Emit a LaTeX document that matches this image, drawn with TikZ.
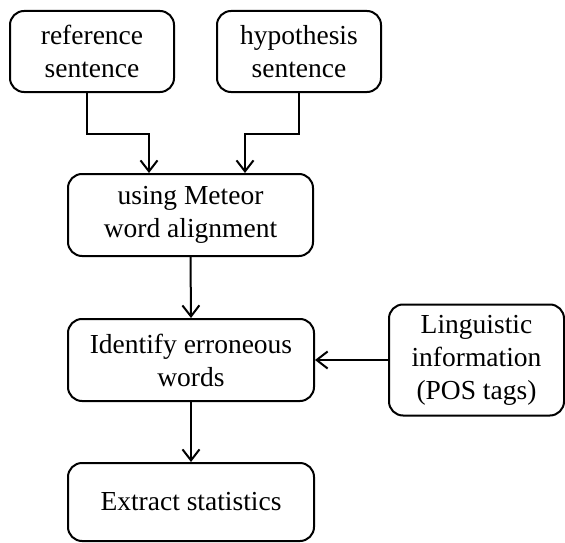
\documentclass[tikz,border=0pt]{standalone}
\usepackage{fontspec}
\setmainfont{Liberation Serif}
\usetikzlibrary{arrows.meta}
\begin{document}
\begin{tikzpicture}[x=1pt,y=-1pt,
  box/.style={draw, line width=2pt, rounded corners=14pt, align=center,
    inner sep=0pt, font=\fontsize{27.5}{33}\selectfont},
  arr/.style={line width=2pt, -{Straight Barb[length=11pt,width=17pt,line width=2pt]}}]
\useasboundingbox (0,0) rectangle (565,543);
\node[box, minimum width=164pt, minimum height=81pt] (ref) at (92,51.5) {reference\\sentence};
\node[box, minimum width=164pt, minimum height=81pt] (hyp) at (299,51.5) {hypothesis\\sentence};
\node[box, minimum width=245pt, minimum height=82pt] (met) at (190.5,215) {using Meteor\\word alignment};
\node[box, minimum width=246pt, minimum height=82pt] (idf) at (191,360) {Identify erroneous\\words};
\node[box, minimum width=175pt, minimum height=111pt] (ling) at (476.5,360) {Linguistic\\information\\(POS tags)};
\node[box, minimum width=246pt, minimum height=78pt] (ext) at (191,502) {Extract statistics};
\draw[arr] ([xshift=-5pt]ref.south) -- ++(0,41) -| ([xshift=-41.5pt]met.north);
\draw[arr] (hyp.south) -- ++(0,41) -| ([xshift=54.5pt]met.north);
\draw[arr] (met.south) -- (idf.north);
\draw[arr] (ling.west) -- (idf.east);
\draw[arr] (idf.south) -- (ext.north);
\end{tikzpicture}
\end{document}
